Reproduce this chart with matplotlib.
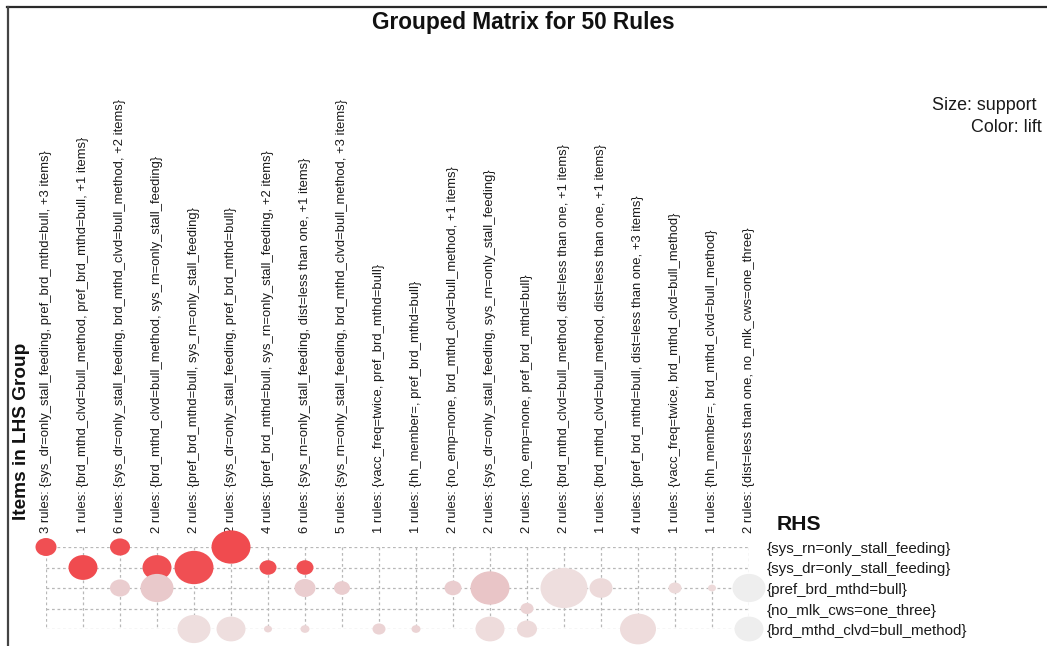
import matplotlib
matplotlib.use("Agg")
import matplotlib.pyplot as plt
from matplotlib.path import Path
from matplotlib.transforms import Affine2D
from matplotlib.colors import LinearSegmentedColormap, Normalize
from matplotlib.lines import Line2D

plt.rcParams['font.family'] = ['Liberation Sans', 'DejaVu Sans']

# ---------------- data ----------------
lhs_groups = [
    "3 rules: {sys_dr=only_stall_feeding, pref_brd_mthd=bull, +3 items}",
    "1 rules: {brd_mthd_clvd=bull_method, pref_brd_mthd=bull, +1 items}",
    "6 rules: {sys_dr=only_stall_feeding, brd_mthd_clvd=bull_method, +2 items}",
    "2 rules: {brd_mthd_clvd=bull_method, sys_rn=only_stall_feeding}",
    "2 rules: {pref_brd_mthd=bull, sys_rn=only_stall_feeding}",
    "2 rules: {sys_dr=only_stall_feeding, pref_brd_mthd=bull}",
    "4 rules: {pref_brd_mthd=bull, sys_rn=only_stall_feeding, +2 items}",
    "6 rules: {sys_rn=only_stall_feeding, dist=less than one, +1 items}",
    "5 rules: {sys_rn=only_stall_feeding, brd_mthd_clvd=bull_method, +3 items}",
    "1 rules: {vacc_freq=twice, pref_brd_mthd=bull}",
    "1 rules: {hh_member=, pref_brd_mthd=bull}",
    "2 rules: {no_emp=none, brd_mthd_clvd=bull_method, +1 items}",
    "2 rules: {sys_dr=only_stall_feeding, sys_rn=only_stall_feeding}",
    "2 rules: {no_emp=none, pref_brd_mthd=bull}",
    "2 rules: {brd_mthd_clvd=bull_method, dist=less than one, +1 items}",
    "1 rules: {brd_mthd_clvd=bull_method, dist=less than one, +1 items}",
    "4 rules: {pref_brd_mthd=bull, dist=less than one, +3 items}",
    "1 rules: {vacc_freq=twice, brd_mthd_clvd=bull_method}",
    "1 rules: {hh_member=, brd_mthd_clvd=bull_method}",
    "2 rules: {dist=less than one, no_mlk_cws=one_three}",
]

rhs_items = [
    "{sys_rn=only_stall_feeding}",
    "{sys_dr=only_stall_feeding}",
    "{pref_brd_mthd=bull}",
    "{no_mlk_cws=one_three}",
    "{brd_mthd_clvd=bull_method}",
]

# one entry per bubble: LHS group index (1-based), RHS index, support, lift
bubble_lhs = [1, 2, 3, 3, 4, 4, 5, 5, 6, 6, 7, 7, 8, 8, 8, 9, 10, 11, 12,
              13, 13, 14, 14, 15, 16, 17, 18, 19, 20, 20]
bubble_rhs = [0, 1, 0, 2, 1, 2, 1, 4, 0, 4, 1, 4, 1, 2, 4, 2, 4, 4, 2,
              2, 4, 3, 4, 2, 2, 4, 2, 2, 2, 4]
bubble_support = [0.021, 0.029, 0.020, 0.020, 0.029, 0.033, 0.039, 0.033,
                  0.039, 0.029, 0.017, 0.008, 0.017, 0.021, 0.009, 0.016,
                  0.013, 0.009, 0.017, 0.039, 0.029, 0.013, 0.020, 0.047,
                  0.023, 0.036, 0.013, 0.008, 0.033, 0.029]
bubble_lift = [2.95, 3.00, 2.95, 1.45, 2.95, 1.50, 2.95, 1.25, 3.00, 1.25,
               2.95, 1.35, 2.95, 1.45, 1.35, 1.45, 1.38, 1.38, 1.45, 1.55,
               1.28, 1.38, 1.30, 1.25, 1.30, 1.28, 1.30, 1.30, 1.00, 1.00]

title = "Grouped Matrix for 50 Rules"

# ---------------- figure ----------------
W, H = 1047, 646
fig = plt.figure(figsize=(W / 100, H / 100), dpi=100)

def fx(px):
    return px / W

def fy(py):
    return 1 - py / H

# axes: column 1 at x=46px, column 20 at x=749px; row 0 at y=547px, row 4 at y=629px
ax = fig.add_axes([fx(46), fy(629), fx(749) - fx(46), fy(547) - fy(629)])
ncol = len(lhs_groups)
nrow = len(rhs_items)
ax.set_xlim(1, ncol)
ax.set_ylim(nrow - 1, 0)
ax.axis('off')

cols = list(range(1, ncol + 1))
rows = list(range(nrow))
grid_kw = dict(color='#b8b8b8', linewidth=0.9, linestyles=(0, (2.2, 2.2)), zorder=1)
ax.hlines(rows, 1, ncol, **grid_kw)
ax.vlines(cols, 0, nrow - 1, **grid_kw)

cmap = LinearSegmentedColormap.from_list(
    "lift", [(0.0, '#eeeeee'), (0.125, '#eedede'), (0.25, '#e9c9cb'),
             (0.6, '#ee8e90'), (1.0, '#f04b4f')])
norm = Normalize(vmin=1.0, vmax=3.0)

ell = Path.unit_circle().transformed(Affine2D().scale(1.0, 1 / 1.17))
sizes = [(s * 1000 * 0.72) ** 2 for s in bubble_support]
ax.scatter(bubble_lhs, bubble_rhs, s=sizes, c=bubble_lift, cmap=cmap, norm=norm,
           marker=ell, linewidths=0, zorder=3, clip_on=False)

for i, lab in enumerate(lhs_groups):
    ax.annotate(lab, xy=(i + 1, 0), xytext=(0, 14), textcoords='offset pixels',
                rotation=90, ha='center', va='bottom', fontsize=9.4,
                color='#1a1a1a', zorder=2, annotation_clip=False)

for j, lab in enumerate(rhs_items):
    ax.annotate(lab, xy=(ncol, j), xytext=(18, -2), textcoords='offset pixels',
                ha='left', va='center', fontsize=10.9, color='#1a1a1a',
                annotation_clip=False)

fig.text(fx(523.5), fy(22), title, ha='center', va='center',
         fontsize=16.3, fontweight='bold', color='#111111')
fig.text(fx(777), fy(525), "RHS", ha='left', va='center',
         fontsize=15.2, fontweight='bold', color='#111111')
fig.text(fx(22), fy(520), "Items in LHS Group", rotation=90, ha='center',
         va='bottom', fontsize=13.7, fontweight='bold', color='#111111')
fig.text(fx(1037), fy(105), "Size: support", ha='right', va='center',
         fontsize=12.9, color='#1a1a1a')
fig.text(fx(1042), fy(128), "Color: lift", ha='right', va='center',
         fontsize=12.9, color='#1a1a1a')

# frame lines (top and left)
fig.add_artist(Line2D([fx(7), fx(1047)], [fy(7), fy(7)], color='#2a2a2a',
                      linewidth=1.6, transform=fig.transFigure))
fig.add_artist(Line2D([fx(8), fx(8)], [fy(7), fy(646)], color='#444444',
                      linewidth=1.6, transform=fig.transFigure))

fig.savefig("out.png", dpi=100, facecolor='white')
